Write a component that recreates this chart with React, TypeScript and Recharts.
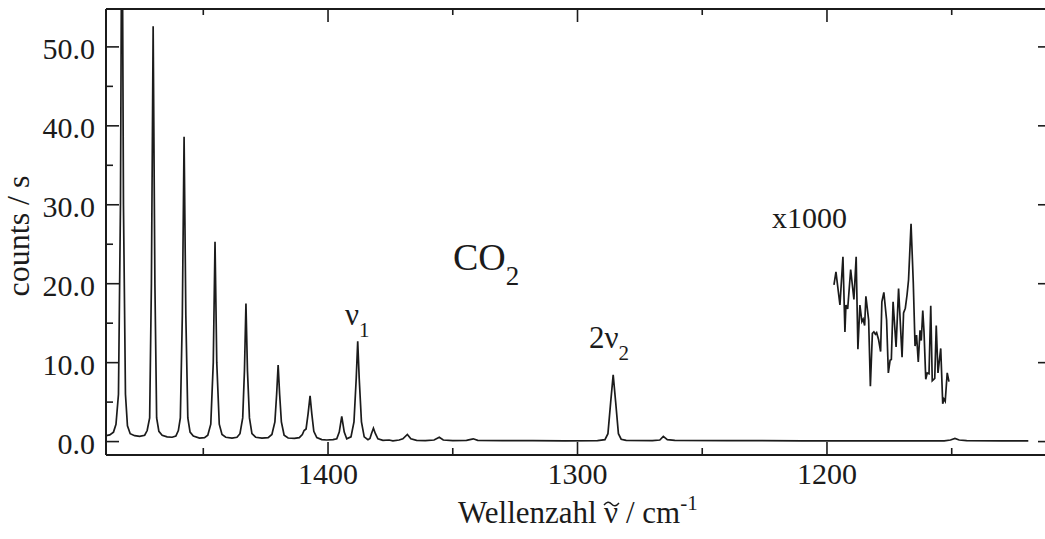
import { LineChart, Line, XAxis, YAxis, ReferenceLine } from "recharts";

// Raman spectrum of CO2 (counts / s vs. wavenumber, cm^-1)
const X_DOMAIN: [number, number] = [1110.2, 1489.0];
const Y_DOMAIN: [number, number] = [-1.7, 54.8];
const xTicks = [1450, 1400, 1350, 1300, 1250, 1200, 1150];
const xMajorTicks = [1400, 1300, 1200];
const yTicks = [0, 5, 10, 15, 20, 25, 30, 35, 40, 45, 50];
const yMajorTicks = [0, 10, 20, 30, 40, 50];

const spectrumWavenumber = [
  1489.0, 1487.5, 1486.0, 1485.0, 1484.0, 1483.2, 1482.6, 1482.0, 1481.2, 1480.4, 1479.3, 1477.5,
  1475.5, 1473.5, 1472.5, 1471.5, 1470.8, 1470.1, 1469.4, 1468.7, 1467.8, 1466.5, 1464.5, 1462.5,
  1461.0, 1460.0, 1459.2, 1458.4, 1457.7, 1457.0, 1456.2, 1455.3, 1454.0, 1451.5, 1449.5, 1448.2,
  1447.0, 1446.0, 1445.3, 1444.6, 1443.6, 1442.5, 1441.0, 1438.5, 1436.5, 1435.3, 1434.2, 1433.5,
  1432.9, 1432.3, 1431.5, 1430.5, 1429.0, 1426.5, 1424.0, 1422.5, 1421.3, 1420.6, 1420.0, 1419.4,
  1418.7, 1417.6, 1416.0, 1413.5, 1411.5, 1410.3, 1409.6, 1408.8, 1408.0, 1407.2, 1406.5, 1405.7,
  1404.5, 1402.5, 1400.5, 1398.0, 1396.5, 1395.5, 1394.5, 1393.5, 1392.5, 1390.8, 1389.6, 1388.7,
  1388.1, 1387.5, 1386.6, 1385.5, 1384.0, 1383.2, 1382.6, 1381.8, 1381.0, 1380.0, 1378.0, 1375.5,
  1374.0, 1371.5, 1370.0, 1368.2, 1366.8, 1364.5, 1361.0, 1357.5, 1355.4, 1353.8, 1350.0, 1344.5,
  1341.8, 1340.0, 1330.0, 1318.0, 1305.0, 1292.0, 1289.0, 1287.8, 1286.7, 1285.7, 1284.7, 1283.6,
  1282.5, 1280.5, 1270.0, 1267.0, 1265.6, 1264.0, 1261.0, 1240.0, 1210.0, 1180.0, 1153.0, 1150.5,
  1148.7, 1147.0, 1144.0, 1130.0, 1119.3,
];
const spectrumCounts = [
  0.75, 0.85, 1.2, 2.2, 6, 30, 75, 30, 6, 2.0, 1.0, 0.75,
  0.65, 0.8, 1.4, 3.0, 20, 52.6, 20, 3.0, 1.3, 0.8, 0.6, 0.55,
  0.7, 1.4, 3.0, 16, 38.6, 16, 3.0, 1.2, 0.7, 0.45, 0.5, 0.8,
  2.2, 10, 25.3, 10, 2.2, 0.9, 0.55, 0.45, 0.55, 1.0, 3.0, 9,
  17.5, 9, 3.0, 1.0, 0.55, 0.45, 0.5, 0.9, 2.5, 6, 9.7, 6,
  2.5, 0.8, 0.45, 0.4, 0.5, 0.9, 1.4, 1.6, 3.5, 5.8, 3.5, 1.3,
  0.5, 0.25, 0.2, 0.25, 0.35, 1.2, 3.2, 1.2, 0.35, 0.6, 2.5, 8,
  12.7, 8, 2.5, 0.6, 0.25, 0.4, 1.0, 1.7, 1.0, 0.35, 0.15, 0.2,
  0.1, 0.2, 0.35, 0.9, 0.35, 0.15, 0.12, 0.2, 0.55, 0.2, 0.12, 0.15,
  0.35, 0.15, 0.12, 0.12, 0.1, 0.12, 0.25, 1.0, 5, 8.45, 5, 1.0,
  0.3, 0.15, 0.12, 0.2, 0.65, 0.25, 0.15, 0.12, 0.1, 0.1, 0.1, 0.2,
  0.4, 0.2, 0.12, 0.1, 0.1,
];

// weak region magnified x1000
const x1000Wavenumber = [
  1197.2, 1196.4, 1194.8, 1193.6, 1192.8, 1192.4, 1191.7, 1190.5, 1189.2, 1188.3, 1187.6, 1186.8,
  1186.0, 1185.5, 1184.9, 1184.4, 1183.3, 1182.6, 1181.8, 1181.2, 1180.6, 1180.1, 1179.3, 1178.5,
  1178.0, 1177.2, 1176.1, 1175.4, 1174.7, 1174.2, 1173.5, 1172.3, 1171.3, 1169.9, 1169.3, 1168.6,
  1167.9, 1167.3, 1166.3, 1165.4, 1164.7, 1164.1, 1163.4, 1162.7, 1162.2, 1161.6, 1161.1, 1160.4,
  1159.8, 1159.1, 1158.4, 1157.8, 1156.8, 1156.2, 1155.5, 1154.4, 1153.6, 1153.1, 1152.6, 1151.8,
  1151.1,
];
const x1000Counts = [
  19.85, 21.5, 17.3, 23.4, 13.9, 17.3, 16.8, 21.8, 18.0, 23.4, 11.7, 17.3,
  15.2, 15.5, 14.7, 18.4, 15.4, 7.0, 13.7, 13.9, 13.6, 13.8, 12.9, 11.4,
  17.7, 18.9, 15.4, 8.7, 10.3, 10.4, 17.7, 12.0, 19.4, 10.7, 16.3, 16.9,
  18.6, 20.5, 27.6, 20.1, 12.1, 13.5, 10.1, 14.1, 12.8, 16.6, 13.9, 7.9,
  8.7, 8.6, 17.2, 7.7, 8.0, 14.7, 8.7, 11.8, 4.8, 5.4, 5.1, 8.7,
  7.6,
];

const spectrum = spectrumWavenumber.map((w, i) => ({ w, counts: spectrumCounts[i] }));
const x1000 = x1000Wavenumber.map((w, i) => ({ w, counts: x1000Counts[i] }));

const WIDTH = 1060;
const HEIGHT = 539;
const PLOT_LEFT = 106;
const PLOT_TOP = 9;
const PLOT_RIGHT = 1051;
const PLOT_BOTTOM = 455;
const INK = "#1b1b1b";
const FONT = "'Liberation Serif', 'Times New Roman', serif";

function YTick({ y, payload }: any) {
  const v = payload.value as number;
  const major = yMajorTicks.includes(v);
  return (
    <g>
      <line x1={PLOT_LEFT} x2={PLOT_LEFT + (major ? 13 : 7)} y1={y} y2={y} stroke={INK} strokeWidth={1.6} />
      {major && <line x1={PLOT_RIGHT - 13} x2={PLOT_RIGHT} y1={y} y2={y} stroke={INK} strokeWidth={1.6} />}
      {major && (
        <text x={PLOT_LEFT - 11} y={y} dy={12} textAnchor="end" fontSize={30} fontFamily={FONT} fill={INK}>
          {v.toFixed(1)}
        </text>
      )}
    </g>
  );
}

function XTick({ x, payload }: any) {
  const v = payload.value as number;
  const major = xMajorTicks.includes(v);
  const len = major ? 13 : 7;
  return (
    <g>
      <line x1={x} x2={x} y1={PLOT_BOTTOM} y2={PLOT_BOTTOM - len} stroke={INK} strokeWidth={1.6} />
      <line x1={x} x2={x} y1={PLOT_TOP} y2={PLOT_TOP + (major ? 13 : 6)} stroke={INK} strokeWidth={1.6} />
      {major && (
        <text x={x} y={484} textAnchor="middle" fontSize={30} fontFamily={FONT} fill={INK}>
          {v}
        </text>
      )}
    </g>
  );
}

export default function App() {
  return (
    <div style={{ position: "absolute", left: 0, top: 0, width: 1045, height: HEIGHT, overflow: "hidden", background: "#fff" }}>
      <LineChart width={WIDTH} height={HEIGHT} margin={{ top: PLOT_TOP, right: WIDTH - PLOT_RIGHT, bottom: 0, left: 0 }}>
        <XAxis
          type="number"
          dataKey="w"
          domain={X_DOMAIN}
          reversed
          allowDataOverflow
          ticks={xTicks}
          interval={0}
          height={HEIGHT - PLOT_BOTTOM}
          axisLine={{ stroke: INK, strokeWidth: 2 }}
          tickLine={false}
          tick={(p: any) => <XTick {...p} />}
        />
        <YAxis
          type="number"
          domain={Y_DOMAIN}
          allowDataOverflow
          ticks={yTicks}
          interval={0}
          width={PLOT_LEFT}
          axisLine={{ stroke: INK, strokeWidth: 2 }}
          tickLine={false}
          tick={(p: any) => <YTick {...p} />}
        />
        <ReferenceLine y={Y_DOMAIN[1]} stroke={INK} strokeWidth={2} ifOverflow="visible" />
        <ReferenceLine x={X_DOMAIN[0]} stroke={INK} strokeWidth={2} ifOverflow="visible" />
        <Line
          data={spectrum}
          dataKey="counts"
          type="linear"
          stroke={INK}
          strokeWidth={1.7}
          dot={false}
          activeDot={false}
          isAnimationActive={false}
        />
        <Line
          data={x1000}
          dataKey="counts"
          type="linear"
          stroke={INK}
          strokeWidth={1.7}
          dot={false}
          activeDot={false}
          isAnimationActive={false}
        />
      </LineChart>
      <svg
        width={1045}
        height={HEIGHT}
        style={{ position: "absolute", left: 0, top: 0, pointerEvents: "none" }}
        fontFamily={FONT}
        fill={INK}
      >
        <text transform="translate(29, 236) rotate(-90)" textAnchor="middle" fontSize={32}>
          counts / s
        </text>
        {/* axis title: Wellenzahl ν̃ / cm⁻¹ (tilde drawn as a small path) */}
        <text x={458} y={523} fontSize={31}>
          Wellenzahl
        </text>
        <text x={604} y={523} fontSize={31}>
          ν
        </text>
        <path d="M604,505 q4,-5 7.5,-1 t7.5,-1" fill="none" stroke={INK} strokeWidth={1.4} />
        <text x={626} y={523} fontSize={31}>
          / cm
          <tspan dy={-13} fontSize={21}>-1</tspan>
        </text>
        <text x={453} y={270} fontSize={38}>
          CO
          <tspan dy={15} fontSize={27}>2</tspan>
        </text>
        <text x={345} y={325} fontSize={31}>
          ν
          <tspan dy={12} fontSize={21}>1</tspan>
        </text>
        <text x={589} y={348} fontSize={31}>
          2ν
          <tspan dy={12} fontSize={21}>2</tspan>
        </text>
        <text x={772} y={228} fontSize={30}>
          x1000
        </text>
      </svg>
    </div>
  );
}
